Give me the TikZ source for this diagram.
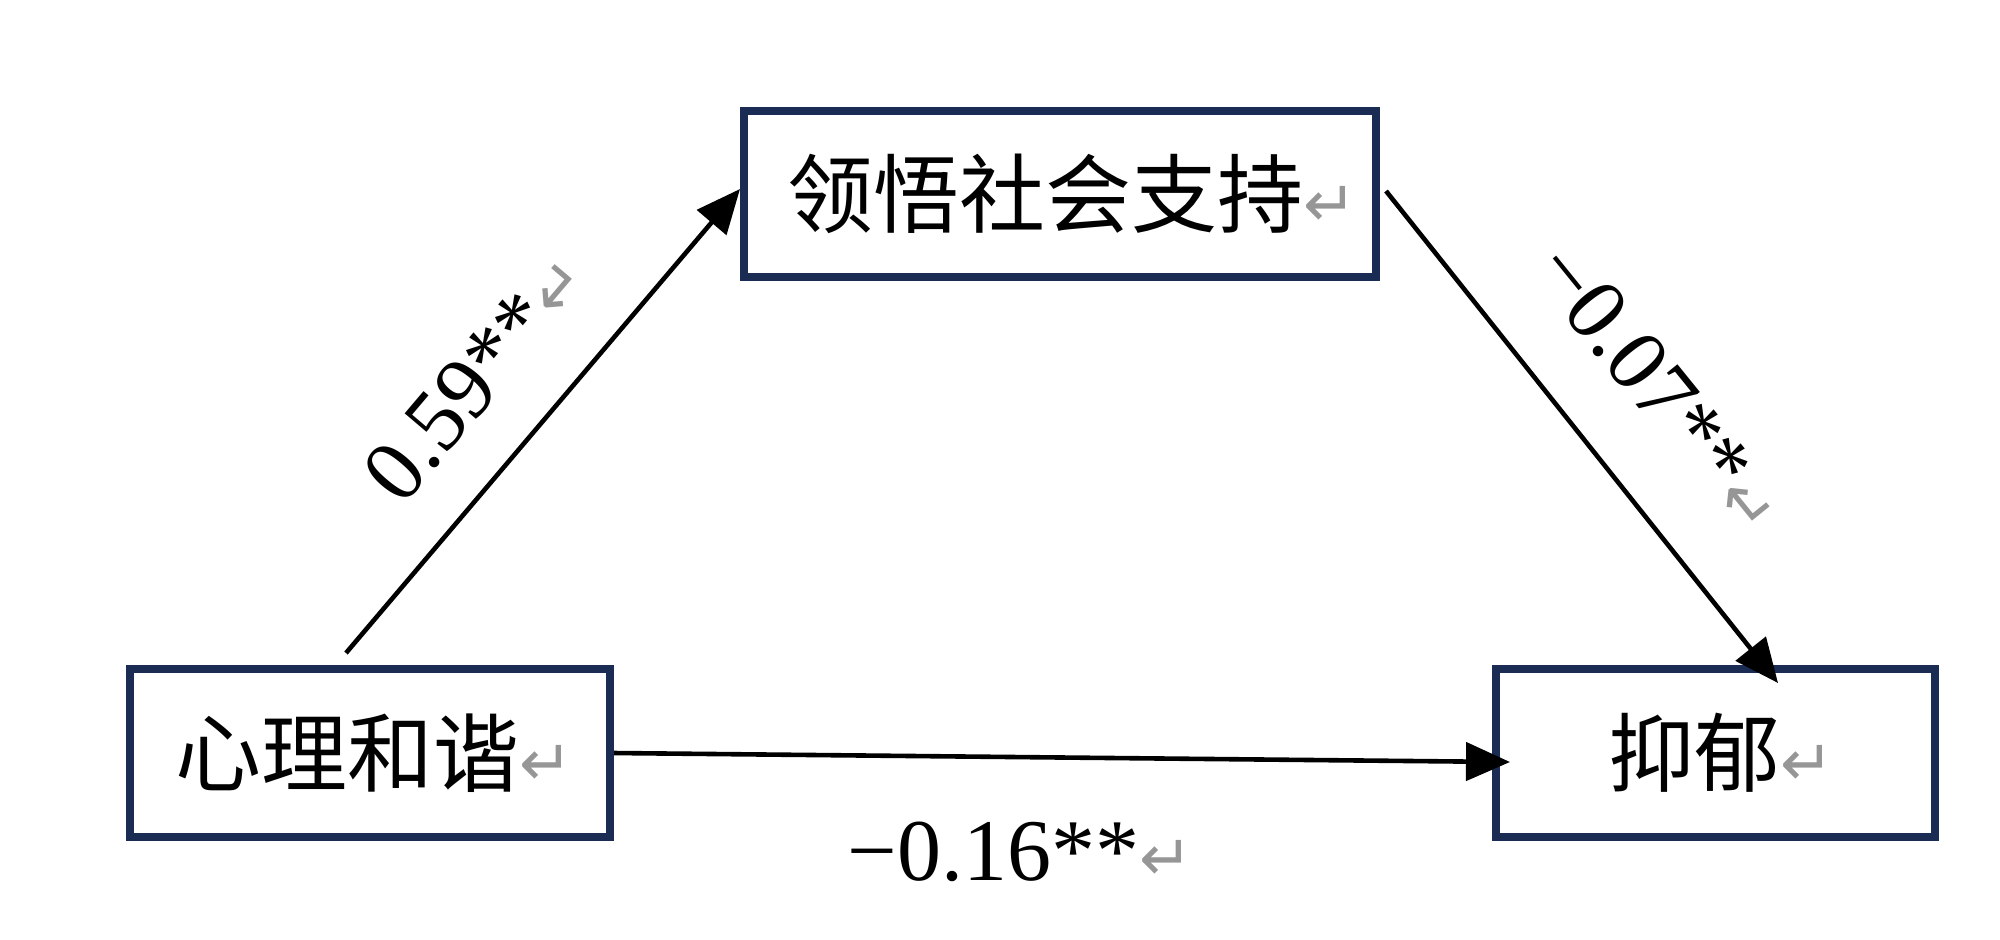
\documentclass[tikz,border=0pt]{standalone}
\usepackage{fontspec}
\setmainfont{Liberation Serif}
\newfontfamily\cjk{Noto Sans CJK SC}
\newfontfamily\symfont{DejaVu Sans}
\usetikzlibrary{arrows.meta,calc}
\definecolor{boxblue}{RGB}{26,43,84}
\definecolor{markgray}{RGB}{150,150,150}
\newcommand{\pmark}{{\symfont\fontsize{32}{32}\selectfont\textcolor{markgray}{↵}}}
\begin{document}
\begin{tikzpicture}[x=0.5pt,y=-0.5pt,
  varbox/.style={draw=boxblue, line width=4pt, inner sep=0pt, fill=white,
    font=\cjk\fontsize{43}{43}\selectfont},
  conn/.style={line width=2.3pt, -{Triangle[length=22pt,width=19pt]}},
  coef/.style={font=\fontsize{44}{44}\selectfont, inner sep=0pt}]
\useasboundingbox (0,0) rectangle (2000,939);
\node[varbox, minimum width=316pt, minimum height=83pt] (T) at (1060,194) {\hspace*{12pt}领悟社会支持\pmark};
\node[varbox, minimum width=240pt, minimum height=84pt] (L) at (370,753) {\hspace*{4pt}心理和谐\pmark};
\node[varbox, minimum width=219.5pt, minimum height=84pt] (R) at (1715.5,753) {\hspace*{6pt}抑郁\pmark};
\draw[conn] ([xshift=110pt,yshift=6pt]L.north west) -- ([yshift=2.5pt]T.west);
\draw[conn] ([xshift=3pt,yshift=1.5pt]T.east) -- ([xshift=143pt,yshift=-9pt]R.north west);
\draw[conn] (L.east) -- ([xshift=9pt,yshift=-4.5pt]R.west);
\node[coef, rotate=49.7] (c1) at (476,376) {0.59**\pmark};
\node[coef, rotate=-51] (c2) at (1660,389) {−0.07**\pmark};
\node[coef] (c3) at (1020,852) {−0.16**\pmark};
\end{tikzpicture}
\end{document}
